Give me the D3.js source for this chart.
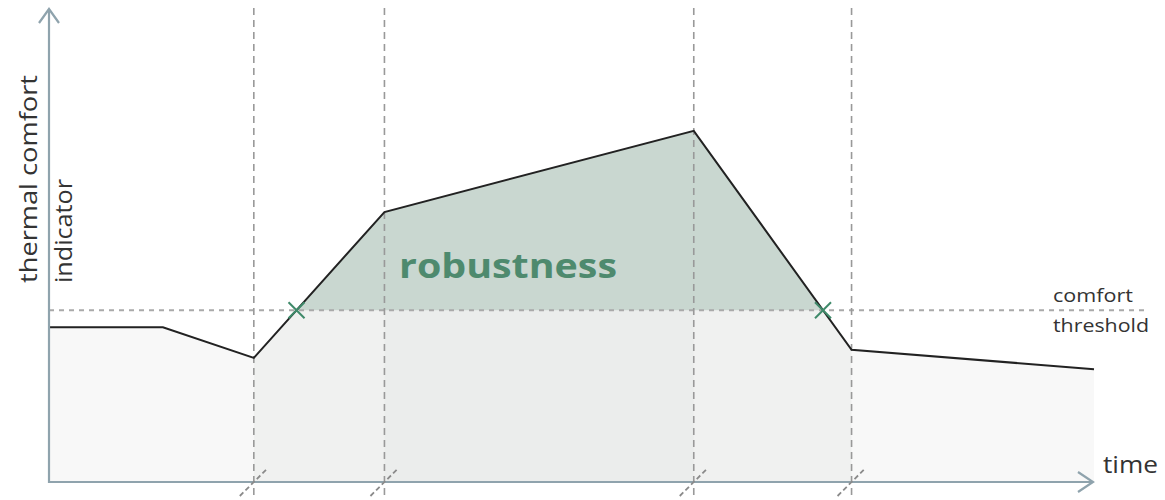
<!DOCTYPE html>
<html>
<head>
<meta charset="utf-8">
<script src="https://cdn.jsdelivr.net/npm/d3@7"></script>
<style>
  html, body { margin: 0; padding: 0; background: #fff; }
  svg { display: block; }
  text { font-family: "Open Sans", "DejaVu Sans", sans-serif; }
</style>
</head>
<body>
<svg id="chart" width="1165" height="500"></svg>
<script>
// Thermal comfort indicator over time (schematic units, 0–100 on both axes)
const curveTime  = [0, 10.9, 19.6, 32.1, 61.7, 76.8, 100];
const curveValue = [32.8, 32.8, 26.3, 57.2, 74.4, 28.0, 23.9];
const comfortThreshold = 36.4;

// Event moments marked by vertical guides
const eventTimes = [19.6, 32.1, 61.7, 76.8];

// Shaded phases below the threshold: [start, end, shade]
const phaseStart = [19.6, 32.1];
const phaseEnd   = [76.8, 61.7];
const phaseShade = ["#f0f1f0", "#ebedec"];

const axisLabelY = ["thermal comfort", "indicator"];
const axisLabelX = "time";
const thresholdLabel = ["comfort", "threshold"];
const areaLabel = "robustness";

const svg = d3.select("#chart");

const x = d3.scaleLinear().domain([0, 100]).range([49, 1094]);
const y = d3.scaleLinear().domain([0, 100]).range([482, 10]);

const pts = curveTime.map((t, i) => ({ t, v: curveValue[i] }));

// Base fill under the curve
const area = d3.area().x(d => x(d.t)).y0(y(0)).y1(d => y(d.v));
svg.append("path").datum(pts).attr("d", area).attr("fill", "#f8f8f8");

// Value of the curve at any time (piecewise linear)
function valueAt(t) {
  for (let i = 0; i < pts.length - 1; i++) {
    const a = pts[i], b = pts[i + 1];
    if (t >= a.t && t <= b.t) return a.v + (b.v - a.v) * (t - a.t) / (b.t - a.t);
  }
  return pts[pts.length - 1].v;
}

// Curve segment between two times, including the interior vertices
function segment(t0, t1) {
  const out = [{ t: t0, v: valueAt(t0) }];
  pts.forEach(p => { if (p.t > t0 && p.t < t1) out.push(p); });
  out.push({ t: t1, v: valueAt(t1) });
  return out;
}

// Phase shading under the curve
phaseStart.forEach((s, i) => {
  svg.append("path").datum(segment(s, phaseEnd[i])).attr("d", area).attr("fill", phaseShade[i]);
});

// Crossings of the curve with the comfort threshold
const crossings = [];
for (let i = 0; i < pts.length - 1; i++) {
  const a = pts[i], b = pts[i + 1];
  if ((a.v - comfortThreshold) * (b.v - comfortThreshold) < 0) {
    crossings.push(a.t + (b.t - a.t) * (comfortThreshold - a.v) / (b.v - a.v));
  }
}

// Robustness area: the part of the curve above the threshold
const above = segment(crossings[0], crossings[1]);
const robust = d3.area().x(d => x(d.t)).y0(y(comfortThreshold)).y1(d => y(d.v));
svg.append("path").datum(above).attr("d", robust).attr("fill", "#c9d7d0");

// Threshold line
svg.append("line")
  .attr("x1", x(0)).attr("x2", 1147)
  .attr("y1", y(comfortThreshold)).attr("y2", y(comfortThreshold))
  .attr("stroke", "#a9a9a9").attr("stroke-width", 2).attr("stroke-dasharray", "5,5");

// Vertical event guides
svg.selectAll("line.event").data(eventTimes).enter().append("line")
  .attr("class", "event")
  .attr("x1", d => x(d)).attr("x2", d => x(d))
  .attr("y1", 8).attr("y2", 500)
  .attr("stroke", "#999").attr("stroke-width", 1.6).attr("stroke-dasharray", "7,5");

// Curve
svg.append("path").datum(pts)
  .attr("d", d3.line().x(d => x(d.t)).y(d => y(d.v)))
  .attr("fill", "none").attr("stroke", "#222").attr("stroke-width", 2);

// Axes
const axisColor = "#8fa3ad";
svg.append("line").attr("x1", x(0)).attr("x2", x(0)).attr("y1", 9).attr("y2", y(0) + 1)
  .attr("stroke", axisColor).attr("stroke-width", 2.2);
svg.append("path").attr("d", `M${x(0) - 10},23 L${x(0)},9 L${x(0) + 10},23`)
  .attr("fill", "none").attr("stroke", axisColor).attr("stroke-width", 2.2);
svg.append("line").attr("x1", x(0) - 1).attr("x2", x(100) - 1).attr("y1", y(0)).attr("y2", y(0))
  .attr("stroke", axisColor).attr("stroke-width", 2.2);
svg.append("path").attr("d", `M${x(100) - 16},${y(0) - 10} L${x(100) - 1},${y(0)} L${x(100) - 16},${y(0) + 10}`)
  .attr("fill", "none").attr("stroke", axisColor).attr("stroke-width", 2.2);

// Break marks on the time axis
svg.selectAll("line.brk").data(eventTimes).enter().append("line")
  .attr("class", "brk")
  .attr("x1", d => x(d) - 14).attr("y1", y(0) + 14)
  .attr("x2", d => x(d) + 13).attr("y2", y(0) - 13)
  .attr("stroke", "#8a8a8a").attr("stroke-width", 1.8).attr("stroke-dasharray", "5,3");

// Crossing markers
const xr = 8;
crossings.forEach(c => {
  const cx = x(c), cy = y(comfortThreshold);
  svg.append("path")
    .attr("d", `M${cx - xr},${cy - xr} L${cx + xr},${cy + xr} M${cx - xr},${cy + xr} L${cx + xr},${cy - xr}`)
    .attr("stroke", "#3f8a6a").attr("stroke-width", 2).attr("fill", "none");
});

// Labels
svg.append("text").text(areaLabel)
  .attr("x", 399).attr("y", 278)
  .attr("textLength", 218).attr("lengthAdjust", "spacingAndGlyphs")
  .attr("font-size", 34).attr("font-weight", 700).attr("fill", "#4e8a6e");

axisLabelY.forEach((s, i) => {
  const bx = i === 0 ? 37 : 72;
  svg.append("text").text(s)
    .attr("transform", `translate(${bx},283) rotate(-90)`)
    .attr("textLength", i === 0 ? 208 : 104).attr("lengthAdjust", "spacingAndGlyphs")
    .attr("font-size", 24).attr("fill", "#333");
});

svg.append("text").text(axisLabelX)
  .attr("x", 1103).attr("y", 473)
  .attr("textLength", 55).attr("lengthAdjust", "spacingAndGlyphs")
  .attr("font-size", 23).attr("fill", "#333");

thresholdLabel.forEach((s, i) => {
  svg.append("text").text(s)
    .attr("x", 1053).attr("y", i === 0 ? 302 : 332)
    .attr("textLength", i === 0 ? 80 : 96).attr("lengthAdjust", "spacingAndGlyphs")
    .attr("font-size", 18).attr("fill", "#333");
});
</script>
</body>
</html>
